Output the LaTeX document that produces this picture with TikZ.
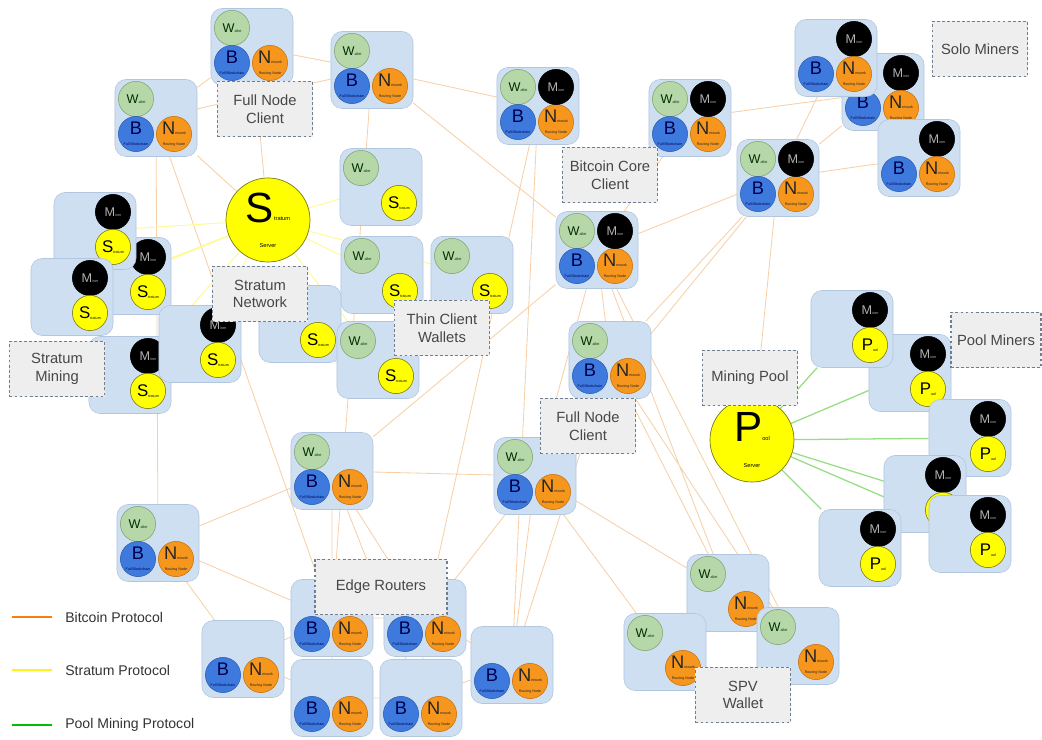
\documentclass[tikz,border=0pt]{standalone}
\usepackage{fontspec}
\setmainfont{Liberation Sans}
\usetikzlibrary{positioning,backgrounds}

\definecolor{tileblue}{RGB}{206,223,242}
\definecolor{tileedge}{RGB}{178,198,224}
\definecolor{walgreen}{RGB}{182,215,168}
\definecolor{waledge}{RGB}{130,165,115}
\definecolor{blkblue}{RGB}{62,122,222}
\definecolor{blkedge}{RGB}{45,95,180}
\definecolor{netorange}{RGB}{246,150,28}
\definecolor{netedge}{RGB}{200,115,15}
\definecolor{strayellow}{RGB}{255,255,0}
\definecolor{straedge}{RGB}{120,120,20}
\definecolor{btcline}{RGB}{247,208,168}
\definecolor{strline}{RGB}{255,250,150}
\definecolor{poolline}{RGB}{150,222,130}
\definecolor{lblfill}{RGB}{238,238,238}
\definecolor{lbledge}{RGB}{112,126,146}

\newcommand{\tinytxt}{\fontsize{2.6}{2.6}\selectfont}
\newcommand{\subtxt}[1]{\raisebox{-0.4pt}{\tinytxt #1}}

\tikzset{
  tilebox/.style={draw=tileedge, fill=tileblue, rounded corners=0.28cm,
    minimum width=2.05cm, minimum height=1.925cm, line width=0.4pt},
  dot/.style={circle, minimum size=0.88cm, inner sep=0pt, line width=0.4pt, align=center},
  wdot/.style={dot, fill=walgreen, draw=waledge, text=black!65!green!50!black,
    font=\fontsize{9}{9}\selectfont},
  mdot/.style={dot, fill=black, draw=black, text=black!30, font=\fontsize{9}{9}\selectfont},
  bdot/.style={dot, fill=blkblue, draw=blkedge, text=blue!30!black, font=\fontsize{13}{13}\selectfont},
  ndot/.style={dot, fill=netorange, draw=netedge, text=black!85, font=\fontsize{13}{13}\selectfont},
  sdot/.style={dot, fill=strayellow, draw=straedge, text=black, font=\fontsize{12}{12}\selectfont},
  bigdot/.style={circle, minimum size=2.1cm, inner sep=0pt, fill=strayellow, draw=straedge,
    line width=0.5pt, align=center, font=\fontsize{30}{30}\selectfont},
  lblbox/.style={draw=lbledge, fill=lblfill, dash pattern=on 2pt off 1.6pt, line width=0.9pt,
    minimum width=2.375cm, minimum height=1.375cm, align=center, text=black!72,
    font=\fontsize{10.5}{12.5}\selectfont, inner sep=1pt},
  btc/.style={btcline, line width=0.6pt},
  stra/.style={strline, line width=0.7pt},
  pool/.style={poolline, line width=0.9pt},
  legtext/.style={anchor=west, inner sep=0pt, text=black!80, font=\fontsize{10}{12}\selectfont}
}

\newcommand{\placetile}[3]{\node[tilebox] (#1) at (#2,#3) {};}
\newcommand{\wcircle}[3]{\node[wdot] (#1W) at ({#2-20},{#3-19}) {W\subtxt{allet}};}
\newcommand{\mcircle}[3]{\node[mdot] (#1M) at ({#2+18},{#3-19}) {M\subtxt{iner}};}
\newcommand{\bcircle}[3]{\node[bdot] (#1B) at ({#2-20},{#3+16}) {B\\[-5pt]\tinytxt Full Blockchain};}
\newcommand{\ncircle}[3]{\node[ndot] (#1N) at ({#2+18},{#3+16}) {N\subtxt{etwork}\\[-5pt]\tinytxt Routing Node};}
\newcommand{\scircle}[3]{\node[sdot] (#1S) at ({#2+18},{#3+16}) {S\subtxt{tratum}};}
\newcommand{\pcircle}[3]{\node[sdot] (#1P) at ({#2+18},{#3+16}) {P\subtxt{ool}};}

\newcommand{\fullnode}[3]{\placetile{#1}{#2}{#3}\wcircle{#1}{#2}{#3}\bcircle{#1}{#2}{#3}\ncircle{#1}{#2}{#3}}
\newcommand{\coreminer}[3]{\fullnode{#1}{#2}{#3}\mcircle{#1}{#2}{#3}}
\newcommand{\solominer}[3]{\placetile{#1}{#2}{#3}\mcircle{#1}{#2}{#3}\bcircle{#1}{#2}{#3}\ncircle{#1}{#2}{#3}}
\newcommand{\stratminer}[3]{\placetile{#1}{#2}{#3}\mcircle{#1}{#2}{#3}\scircle{#1}{#2}{#3}}
\newcommand{\thinclient}[3]{\placetile{#1}{#2}{#3}\wcircle{#1}{#2}{#3}\scircle{#1}{#2}{#3}}
\newcommand{\poolminer}[3]{\placetile{#1}{#2}{#3}\mcircle{#1}{#2}{#3}\pcircle{#1}{#2}{#3}}
\newcommand{\spvwallet}[3]{\placetile{#1}{#2}{#3}\wcircle{#1}{#2}{#3}\ncircle{#1}{#2}{#3}}
\newcommand{\edgerouter}[3]{\placetile{#1}{#2}{#3}\bcircle{#1}{#2}{#3}\ncircle{#1}{#2}{#3}}

\begin{document}
\begin{tikzpicture}[x=0.025cm, y=-0.025cm]
    \useasboundingbox (0,0) rectangle (1042,740);

    \stratminer{StratTwo}{130}{276}
    \stratminer{StratOne}{95}{231}
    \stratminer{StratThree}{72}{297}
    \stratminer{StratFour}{130}{375}
    \stratminer{StratFive}{200}{344}

    \thinclient{ThinOne}{381}{187}
    \thinclient{ThinTwo}{382}{275}
    \thinclient{ThinThree}{472}{275}
    \placetile{ThinFour}{300}{324}\scircle{ThinFour}{300}{324}
    \thinclient{ThinFive}{378}{360}

    \fullnode{FullTop}{252}{47}
    \fullnode{FullMid}{372}{70}
    \fullnode{FullLeft}{156}{118}
    \fullnode{FullRight}{610}{360}
    \fullnode{FullLow}{535}{476}
    \fullnode{FullCenter}{332}{471}
    \fullnode{FullLowLeft}{158}{543}

    \coreminer{CoreOne}{538}{106}
    \coreminer{CoreTwo}{690}{118}
    \coreminer{CoreThree}{597}{250}
    \coreminer{CoreFour}{778}{178}

    \solominer{SoloTwo}{883}{92}
    \solominer{SoloOne}{836}{58}
    \solominer{SoloThree}{919}{158}

    \poolminer{PoolTwo}{910}{373}
    \poolminer{PoolOne}{852}{329}
    \poolminer{PoolThree}{970}{438}
    \poolminer{PoolFour}{925}{494}
    \poolminer{PoolFive}{970}{534}
    \poolminer{PoolSix}{860}{548}

    \spvwallet{SpvOne}{728}{593}
    \spvwallet{SpvTwo}{665}{652}
    \spvwallet{SpvThree}{798}{646}

    \edgerouter{EdgeTwo}{332}{618}
    \edgerouter{EdgeThree}{425}{618}
    \edgerouter{EdgeOne}{243}{659}
    \edgerouter{EdgeFour}{332}{698}
    \edgerouter{EdgeFive}{421}{698}
    \edgerouter{EdgeSix}{512}{665}

    \node[bigdot] (StratumServer) at (268,220) {S\raisebox{1pt}{\fontsize{4}{4}\selectfont tratum}\\[-12pt]{\fontsize{4}{4}\selectfont Server}};
    \node[bigdot] (PoolServer) at (752,440) {P\raisebox{1pt}{\fontsize{4}{4}\selectfont ool}\\[-12pt]{\fontsize{4}{4}\selectfont Server}};

    \node[lblbox] (LblFullTop) at (265,109) {Full Node\\Client};
    \node[lblbox] (LblSolo) at (980,49) {Solo Miners};
    \node[lblbox] (LblCore) at (610,175) {Bitcoin Core\\Client};
    \node[lblbox] (LblStratMining) at (57,369) {Stratum\\Mining};
    \node[lblbox] (LblStratNet) at (260,294) {Stratum\\Network};
    \node[lblbox] (LblThin) at (442,328) {Thin Client\\Wallets};
    \node[lblbox] (LblFullLow) at (588,426) {Full Node\\Client};
    \node[lblbox] (LblPool) at (750,378) {Mining Pool};
    \node[lblbox, minimum width=2.25cm] (LblPoolMiners) at (996,340) {Pool Miners};
    \node[lblbox] (LblSpv) at (743,695) {SPV\\Wallet};
    \node[lblbox, minimum width=3.3cm] (LblEdge) at (381,587) {Edge Routers};

    \coordinate (LegBtcA) at (12,617);
    \coordinate (LegBtcB) at (52,617);
    \coordinate (LegStraA) at (12,670);
    \coordinate (LegStraB) at (52,670);
    \coordinate (LegPoolA) at (12,725);
    \coordinate (LegPoolB) at (52,725);
    \draw[orange!85!brown, line width=1.3pt] (LegBtcA) -- (LegBtcB);
    \draw[yellow!90!white, line width=1.3pt] (LegStraA) -- (LegStraB);
    \draw[green!75!black, line width=1.3pt] (LegPoolA) -- (LegPoolB);
    \node[legtext] (LegBtc) at (65,617) {Bitcoin Protocol};
    \node[legtext] (LegStra) at (65,670) {Stratum Protocol};
    \node[legtext] (LegPool) at (65,725) {Pool Mining Protocol};

    \begin{pgfonlayer}{background}
    \fill[white] (0,0) rectangle (1042,740);
    \draw[btc] (FullLeft) -- (FullTop) (FullLeft) -- (FullMid) (FullTop) -- (FullMid)
        (FullTop) -- (StratumServer) (FullLeft) -- (StratumServer)
        (FullLeft) -- (FullLowLeft) (FullLeft) -- (EdgeTwo)
        (FullMid) -- (CoreOne) (FullMid) -- (CoreThree) (FullMid) -- (EdgeTwo)
        (CoreOne) -- (EdgeSix) (CoreOne) -- (EdgeThree)
        (CoreTwo) -- (SoloTwo) (CoreTwo) -- (CoreThree) (CoreThree) -- (CoreFour)
        (CoreFour) -- (SoloOne) (CoreFour) -- (SoloTwo) (CoreFour) -- (SoloThree)
        (CoreFour) -- (PoolServer) (CoreFour) -- (FullLow) (CoreFour) -- (FullRight);
    \draw[btc] (CoreThree) -- (FullRight) (CoreThree) -- (FullCenter) (CoreThree) -- (FullLow)
        (CoreThree) -- (SpvOne) (CoreThree) -- (SpvThree)
        (FullCenter) -- (FullLow) (FullCenter) -- (FullLowLeft)
        (FullLowLeft) -- (EdgeTwo) (FullLowLeft) -- (EdgeOne)
        (FullCenter) -- (EdgeTwo) (FullCenter) -- (EdgeThree) (FullCenter) -- (EdgeFive)
        (FullLow) -- (EdgeThree) (FullLow) -- (EdgeSix) (FullLow) -- (SpvOne) (FullLow) -- (SpvTwo)
        (FullRight) -- (EdgeSix) (FullRight) -- (SpvOne) (FullRight) -- (SpvThree);
    \draw[btc] (EdgeTwo) -- (EdgeThree) (EdgeTwo) -- (EdgeFour) (EdgeThree) -- (EdgeFive)
        (EdgeFour) -- (EdgeFive) (EdgeOne) -- (EdgeTwo) (EdgeOne) -- (EdgeFour)
        (EdgeFive) -- (EdgeSix) (EdgeThree) -- (EdgeSix);
    \draw[stra] (StratumServer) -- (StratOne) (StratumServer) -- (StratTwo)
        (StratumServer) -- (StratThree) (StratumServer) -- (StratFour) (StratumServer) -- (StratFive)
        (StratumServer) -- (ThinOne) (StratumServer) -- (ThinTwo) (StratumServer) -- (ThinThree)
        (StratumServer) -- (ThinFour) (StratumServer) -- (ThinFive);
    \draw[pool] (PoolServer) -- (PoolOne) (PoolServer) -- (PoolTwo) (PoolServer) -- (PoolThree)
        (PoolServer) -- (PoolFour) (PoolServer) -- (PoolFive) (PoolServer) -- (PoolSix);
    \end{pgfonlayer}
\end{tikzpicture}
\end{document}
